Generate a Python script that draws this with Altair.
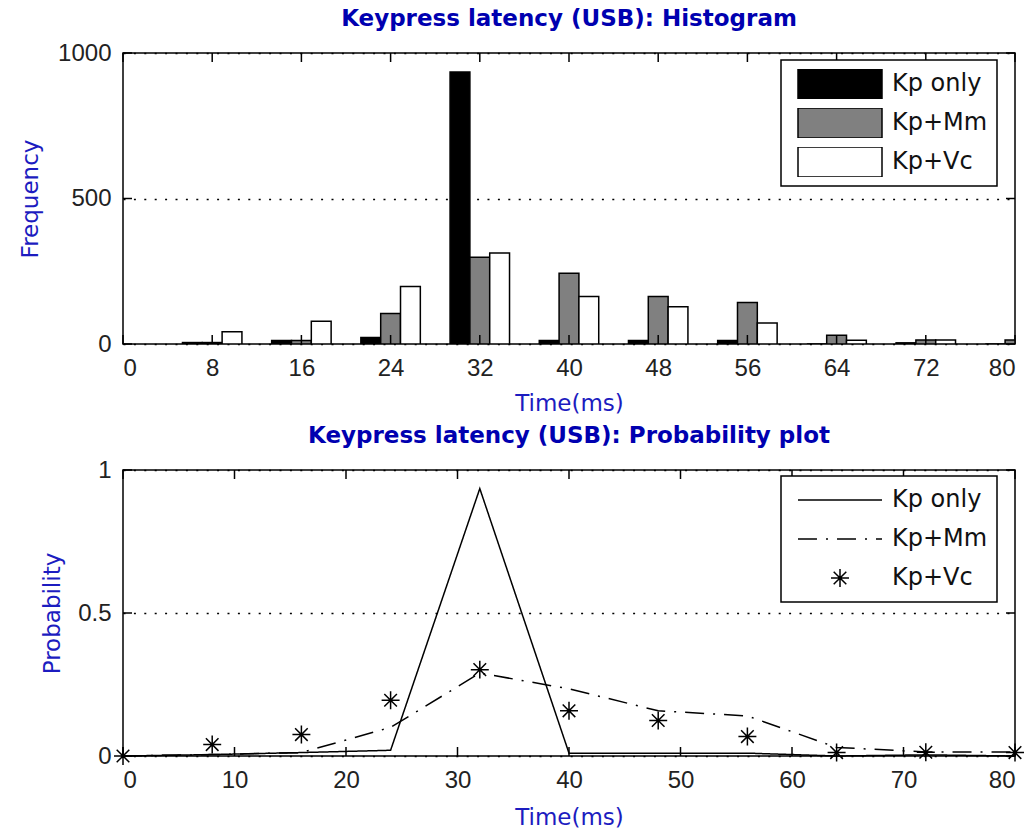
import altair as alt
import pandas as pd

# ---- histogram counts per 8 ms bin ----
bin_centers = [8, 16, 24, 32, 40, 48, 56, 64, 72, 80]
kp_only_counts = [5, 12, 22, 935, 12, 12, 12, 0, 4, 0]
kp_mm_counts = [5, 12, 105, 298, 243, 163, 143, 30, 14, 14]
kp_vc_counts = [42, 78, 198, 313, 163, 128, 72, 13, 14, 12]

# ---- probability per bin ----
prob_times = [0, 8, 16, 24, 32, 40, 48, 56, 64, 72, 80]
kp_only_prob = [0, 0.005, 0.012, 0.02, 0.935, 0.01, 0.01, 0.01, 0.0, 0.004, 0.0]
kp_mm_prob = [0, 0.005, 0.012, 0.10, 0.29, 0.235, 0.158, 0.14, 0.03, 0.014, 0.014]
kp_vc_prob = [0, 0.04, 0.075, 0.195, 0.302, 0.158, 0.124, 0.068, 0.012, 0.013, 0.012]

series_names = ["Kp only", "Kp+Mm", "Kp+Vc"]
bar_colors = ["black", "#808080", "white"]

hist_ticks_x = [0, 8, 16, 24, 32, 40, 48, 56, 64, 72, 80]
hist_ticks_y = [0, 500, 1000]
prob_ticks_x = [0, 10, 20, 30, 40, 50, 60, 70, 80]
prob_ticks_y = [0, 0.5, 1]

# ---- styling ----
W, H1, H2 = 892, 291, 286
TICK_LEN = 9
TICK_FONT = "Liberation Sans"
TEXT_FONT = "DejaVu Sans"
TITLE_BLUE = "#0000b0"
LABEL_BLUE = "#1c1cc0"
BAR_W = 16 / 9  # width of one bar inside a group of three, in ms

RECT_PATH = "M-1,-0.357H1V0.357H-1Z"
SOLID_PATH = "M-1,0H1"
DASHDOT_PATH = ("M-1,0H-0.548M-0.333,0H-0.286M-0.071,0H0.381"
                "M0.595,0H0.643M0.857,0H1")
STAR_PATH = ("M-0.214,0H0.214M0,-0.214V0.214"
             "M-0.15,-0.15L0.15,0.15M-0.15,0.15L0.15,-0.15")
SYMBOL_SIZE = 84 * 84

# ---- tables ----
hist_rows = []
for k, (name, counts) in enumerate(zip(series_names,
                                       [kp_only_counts, kp_mm_counts, kp_vc_counts])):
    for c, n in zip(bin_centers, counts):
        left = c + (k - 1) * BAR_W - BAR_W / 2
        hist_rows.append({"series": name, "x0": left, "x1": left + BAR_W, "count": n})
hist_df = pd.DataFrame(hist_rows)

line_df = pd.DataFrame(
    [{"series": "Kp only", "t": t, "p": p} for t, p in zip(prob_times, kp_only_prob)]
    + [{"series": "Kp+Mm", "t": t, "p": p} for t, p in zip(prob_times, kp_mm_prob)]
)
star_df = pd.DataFrame({"series": "Kp+Vc", "t": prob_times, "p": kp_vc_prob})


def frame_ticks(xs, ys, xenc, yenc, h):
    """Inward tick marks on all four sides of the frame."""
    xt = alt.Chart(pd.DataFrame({"v": xs})).mark_rule(color="black", strokeWidth=1.5)
    yt = alt.Chart(pd.DataFrame({"v": ys})).mark_rule(color="black", strokeWidth=1.5)
    xe = xenc("v:Q")
    ye = yenc("v:Q")
    return [
        xt.encode(x=xe, y=alt.value(h), y2=alt.value(h - TICK_LEN)),
        xt.encode(x=xe, y=alt.value(0), y2=alt.value(TICK_LEN)),
        yt.encode(y=ye, x=alt.value(0), x2=alt.value(TICK_LEN)),
        yt.encode(y=ye, x=alt.value(W), x2=alt.value(W - TICK_LEN)),
    ]


legend_common = dict(
    title=None, orient="none", legendX=658, symbolSize=SYMBOL_SIZE,
    symbolStrokeColor="black", symbolStrokeWidth=1.5, clipHeight=30,
    rowPadding=9, padding=9, symbolOffset=7, labelOffset=9,
    labelFont=TEXT_FONT, labelFontSize=24, labelColor="#111111",
    strokeColor="black", fillColor="white",
)

# ---- histogram panel ----
hx_scale = alt.Scale(domain=[0, 80], nice=False, zero=False)
hy_scale = alt.Scale(domain=[0, 1000], nice=False)
hx_axis = alt.Axis(values=hist_ticks_x, title="Time(ms)", grid=False, titlePadding=12)
hy_axis = alt.Axis(values=hist_ticks_y, title="Frequency", grid=True, format="d",
                   titlePadding=15)


def hx(f):
    return alt.X(f, scale=hx_scale, axis=hx_axis, title="Time(ms)")


def hy(f):
    return alt.Y(f, scale=hy_scale, axis=hy_axis, title="Frequency")


bars = alt.Chart(hist_df).mark_rect(stroke="black", strokeWidth=1.5, clip=True).encode(
    x=hx("x0:Q"),
    x2="x1:Q",
    y=hy("count:Q"),
    y2=alt.datum(0),
    fill=alt.Fill("series:N", sort=series_names,
                  scale=alt.Scale(domain=series_names, range=bar_colors),
                  legend=alt.Legend(legendY=7, symbolType=RECT_PATH, **legend_common)),
)

hist = alt.layer(bars, *frame_ticks(hist_ticks_x, hist_ticks_y, hx, hy, H1)).properties(
    width=W, height=H1,
    title=alt.TitleParams("Keypress latency (USB): Histogram", font=TEXT_FONT,
                          fontWeight="bold", fontSize=23, color=TITLE_BLUE,
                          anchor="middle", frame="group", offset=10),
)

# ---- probability panel ----
px_scale = alt.Scale(domain=[0, 80], nice=False, zero=False)
py_scale = alt.Scale(domain=[0, 1], nice=False)
px_axis = alt.Axis(values=prob_ticks_x, title="Time(ms)", grid=False, titlePadding=14)
py_axis = alt.Axis(values=prob_ticks_y, title="Probability", grid=True, format="~g",
                   titlePadding=13)


def px(f):
    return alt.X(f, scale=px_scale, axis=px_axis, title="Time(ms)")


def py(f):
    return alt.Y(f, scale=py_scale, axis=py_axis, title="Probability")


lines = alt.Chart(line_df).mark_line(color="black", strokeWidth=1.5).encode(
    x=px("t:Q"),
    y=py("p:Q"),
    strokeDash=alt.StrokeDash("series:N",
                              scale=alt.Scale(domain=["Kp only", "Kp+Mm"],
                                              range=[[1, 0], [19, 9, 2, 9]]),
                              legend=None),
    detail="series:N",
)

stars = alt.Chart(star_df).mark_point(
    filled=False, stroke="black", strokeWidth=1.5, size=SYMBOL_SIZE, opacity=1
).encode(
    x=px("t:Q"),
    y=py("p:Q"),
    shape=alt.Shape("series:N",
                    scale=alt.Scale(domain=series_names,
                                    range=[SOLID_PATH, DASHDOT_PATH, STAR_PATH]),
                    legend=alt.Legend(legendY=6, **legend_common)),
)

prob = alt.layer(lines, stars, *frame_ticks(prob_ticks_x, prob_ticks_y, px, py, H2)).properties(
    width=W, height=H2,
    title=alt.TitleParams("Keypress latency (USB): Probability plot", font=TEXT_FONT,
                          fontWeight="bold", fontSize=23, color=TITLE_BLUE,
                          anchor="middle", frame="group", offset=10),
)

chart = alt.vconcat(hist, prob, spacing=8).resolve_scale(
    fill="independent", shape="independent"
).resolve_legend(
    fill="independent", shape="independent"
).properties(
    padding={"left": 18, "top": 7, "right": 5, "bottom": 2},
    background="white",
).configure_view(
    stroke="black", strokeWidth=1.5,
).configure_axis(
    domain=False, ticks=False,
    labelFont=TICK_FONT, labelFontSize=24, labelColor="#222222", labelPadding=12,
    titleFont=TEXT_FONT, titleFontSize=23, titleFontWeight="normal",
    titleColor=LABEL_BLUE,
    gridColor="black", gridDash=[2, 8.4], gridWidth=1.5, gridOpacity=1,
).configure_legend(
    strokeWidth=1.5,
)

chart.save("out.html", embed_options={"renderer": "svg", "actions": False})
